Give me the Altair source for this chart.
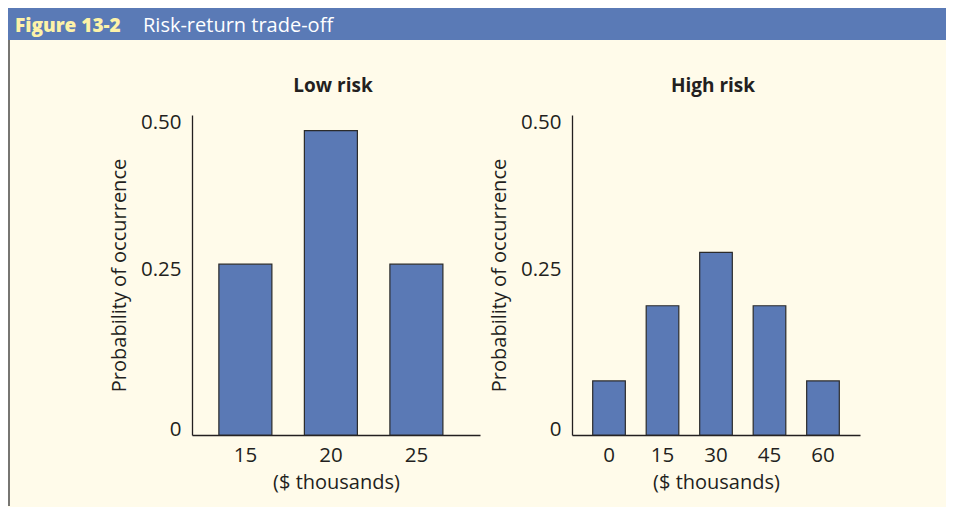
import altair as alt
import pandas as pd

# ---- data ----
low_cats = ["15", "20", "25"]
low_probs = [0.275, 0.49, 0.275]
high_cats = ["0", "15", "30", "45", "60"]
high_probs = [0.087, 0.208, 0.294, 0.208, 0.087]
y_tick_values = [0, 0.25, 0.5]
panel_titles = ["Low risk", "High risk"]
fig_label = "Figure 13-2"
fig_title = "Risk-return trade-off"
x_title = "($ thousands)"
y_title = "Probability of occurrence"

FONT = "Open Sans"
BG = "#fffbea"
HDR = "#5a7ab6"
BAR = "#5a79b5"
INK = "#231f20"
W, H = 288, 320

y_label_offset = {
    "condition": [
        {"test": "datum.value == 0", "value": -6},
        {"test": "datum.value == 0.25", "value": -10},
    ],
    "value": -2,
}


def panel(cats, probs, title, pad_inner, pad_outer, align, header=False):
    df = pd.DataFrame({"x": cats, "p": probs})
    bars = alt.Chart(df).mark_bar(color=BAR, stroke="#2b2b2b", strokeWidth=1.2).encode(
        x=alt.X(
            "x:N", sort=cats,
            scale=alt.Scale(paddingInner=pad_inner, paddingOuter=pad_outer, align=align),
            axis=alt.Axis(
                title=x_title, labelAngle=0, ticks=False, domainColor=INK, domainWidth=1.3,
                labelFont=FONT, labelFontSize=20.5, labelColor=INK, labelPadding=10,
                titleFont=FONT, titleFontSize=20, titleFontWeight="normal", titleColor=INK,
                titleY=53, titleBaseline="alphabetic",
            ),
        ),
        y=alt.Y(
            "p:Q",
            scale=alt.Scale(domain=[0, 0.515], nice=False, zero=True),
            axis=alt.Axis(
                values=y_tick_values,
                labelExpr="datum.value == 0 ? '0' : format(datum.value, '.2f')",
                labelOffset=y_label_offset,
                ticks=False, grid=False, domainColor=INK, domainWidth=1.3,
                labelFont=FONT, labelFontSize=20.5, labelColor=INK, labelPadding=11,
                title=y_title, titleFont=FONT, titleFontSize=20, titleFontWeight="normal",
                titleColor=INK, titleX=-67, titleY=H / 2, titleBaseline="alphabetic",
                titleAlign="center",
            ),
        ),
    )
    tdf = pd.DataFrame({"t": [title]})
    ttl = alt.Chart(tdf).mark_text(
        font=FONT, fontSize=19, fontWeight="bold", color=INK, align="center", baseline="alphabetic"
    ).encode(text="t:N", x=alt.value(W / 2 - 3), y=alt.value(-23))
    layers = [bars, ttl]
    if header:
        hdf = pd.DataFrame({"a": [fig_label], "b": [fig_title]})
        band = alt.Chart(hdf).mark_rect(color=HDR).encode(
            x=alt.value(-184), x2=alt.value(754), y=alt.value(-107), y2=alt.value(-75)
        )
        lab = alt.Chart(hdf).mark_text(
            font=FONT, fontSize=19, fontWeight=800, color="#fdf2a8", align="left", baseline="alphabetic"
        ).encode(text="a:N", x=alt.value(-177), y=alt.value(-83))
        tit = alt.Chart(hdf).mark_text(
            font=FONT, fontSize=20, color="#ffffff", align="left", baseline="alphabetic"
        ).encode(text="b:N", x=alt.value(-49), y=alt.value(-83))
        border = alt.Chart(hdf).mark_rule(color="#4a4a4a", strokeWidth=1.5).encode(
            x=alt.value(-183), y=alt.value(-75), y2=alt.value(391)
        )
        layers = [band, border, lab, tit] + layers
    return alt.layer(*layers).properties(width=W, height=H)


left = panel(low_cats, low_probs, panel_titles[0], 0.38, 0.374, 0.42, header=True)
right = panel(high_cats, high_probs, panel_titles[1], 0.39, 0.387, 0.5)

chart = alt.hconcat(left, right, spacing=92, bounds="flush").properties(
    padding=0, background=BG
).configure_view(stroke=None)

chart.save("out.html", embed_options={"renderer": "svg", "actions": False})
